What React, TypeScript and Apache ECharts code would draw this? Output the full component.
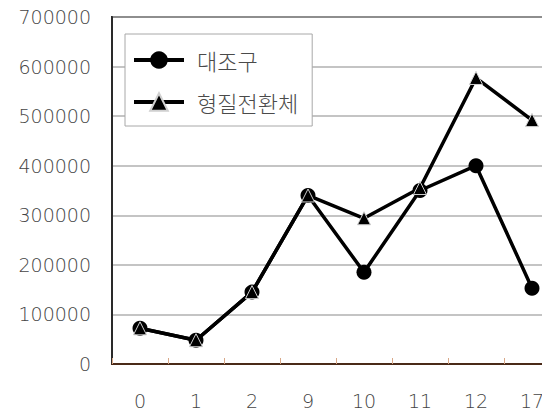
import React, { useEffect, useRef } from "react";
import * as echarts from "echarts";

// 구간(일) 카테고리와 두 처리구의 측정값
const categories = ["0", "1", "2", "9", "10", "11", "12", "17"];
const controlValues = [72000, 48000, 145000, 340000, 185000, 350000, 400000, 153000];
const transgenicValues = [72000, 48000, 145000, 340000, 294000, 355000, 577000, 492000];
const seriesNames = ["대조구", "형질전환체"];

export default function App() {
  const ref = useRef<HTMLDivElement>(null);

  useEffect(() => {
    if (!ref.current) return;
    const chart = echarts.init(ref.current, null, { renderer: "svg" });
    const labelFont = "'DejaVu Sans', sans-serif";
    chart.setOption({
      animation: false,
      backgroundColor: "#ffffff",
      grid: {
        left: 112,
        top: 17,
        bottom: 55,
        right: 10,
        show: true,
        borderColor: "#2a2a2a",
        borderWidth: 2,
        backgroundColor: "transparent",
      },
      legend: {
        orient: "vertical",
        left: 125,
        top: 34,
        padding: [15, 14, 13, 7],
        itemGap: 20,
        itemWidth: 50,
        itemHeight: 22,
        backgroundColor: "#ffffff",
        borderColor: "#a8a8a8",
        borderWidth: 1,
        lineStyle: { width: 4 },
        textStyle: {
          fontFamily: "'Noto Sans CJK KR', sans-serif",
          fontSize: 22,
          fontWeight: 300,
          color: "#4a4a4a",
          padding: [0, 0, 0, 8],
        },
        data: seriesNames,
      },
      xAxis: {
        type: "category",
        data: categories,
        boundaryGap: true,
        axisLine: { show: true, lineStyle: { color: "#4a2a18", width: 2 } },
        axisTick: { show: true, inside: true, length: 6, lineStyle: { color: "#d8a888", width: 1 } },
        axisLabel: { fontFamily: labelFont, fontSize: 19, fontWeight: 200, color: "#444444", margin: 27 },
        splitLine: { show: false },
      },
      yAxis: {
        type: "value",
        min: 0,
        max: 700000,
        interval: 100000,
        axisLine: { show: true, lineStyle: { color: "#2a2a2a", width: 2 } },
        axisTick: { show: false },
        axisLabel: {
          fontFamily: labelFont,
          fontSize: 19,
          fontWeight: 200,
          color: "#444444",
          margin: 21,
          formatter: (v: number) => String(v),
        },
        splitLine: { show: true, lineStyle: { color: "#b0b0b0", width: 1.5 } },
      },
      series: [
        {
          name: seriesNames[0],
          type: "line",
          data: controlValues,
          symbol: "circle",
          symbolSize: 15,
          lineStyle: { color: "#000000", width: 3.5 },
          itemStyle: { color: "#000000", borderColor: "#000000", borderWidth: 0 },
          z: 2,
        },
        {
          name: seriesNames[1],
          type: "line",
          data: transgenicValues,
          symbol: "triangle",
          symbolSize: 13,
          lineStyle: { color: "#000000", width: 3.5 },
          itemStyle: { color: "#000000", borderColor: "#d0d0d0", borderWidth: 1 },
          z: 3,
        },
      ],
    });
    return () => chart.dispose();
  }, []);

  return (
    <div style={{ width: 550, height: 419, margin: -8, overflow: "hidden", position: "relative" }}>
      <div ref={ref} style={{ width: 570, height: 419 }} />
    </div>
  );
}
